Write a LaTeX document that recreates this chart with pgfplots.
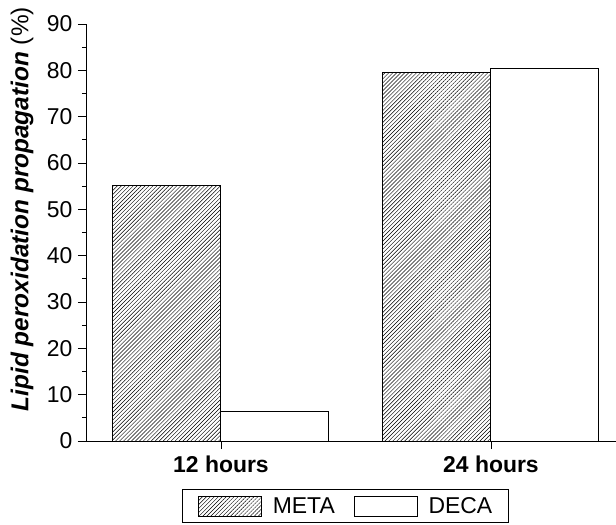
\documentclass[border=0pt]{standalone}
\usepackage{fontspec}
\setmainfont{Liberation Sans}
\usepackage{pgfplots}
\pgfplotsset{compat=1.18}
\usetikzlibrary{patterns.meta}
\begin{document}
\begin{tikzpicture}
\useasboundingbox (-86bp,-84bp) rectangle (530bp,441bp);
\begin{axis}[
  scale only axis,
  width=530bp, height=417bp,
  xmin=0.5, xmax=2.463,
  ymin=0, ymax=90,
  axis x line*=bottom,
  axis y line*=left,
  x axis line style={shorten <=-8bp},
  ytick={0,10,...,90},
  minor ytick={5,15,...,85},
  xtick={1,2},
  xticklabels={\textbf{12 hours},\textbf{24 hours}},
  tick align=outside,
  major tick length=8bp,
  minor tick length=4bp,
  tick style={black, line width=0.8bp},
  axis line style={black, line width=0.8bp},
  /pgf/number format/assume math mode=true,
  tick label style={font=\fontsize{23}{27}\selectfont},
  yticklabel style={xshift=-2bp},
  xticklabel style={yshift=-3bp},
  every axis y label/.style={at={(axis description cs:-0.1208,0.556)},anchor=center,rotate=90},
  ylabel={\fontsize{24.5}{28}\selectfont\textbf{\textit{Lipid peroxidation propagation}} (\%)},
  ybar=0pt,
  bar width=0.4,
  legend columns=2,
  legend style={at={(axis description cs:0.489,-0.1151)}, anchor=north, draw=black, line width=0.6bp,
    font=\fontsize{23}{27}\selectfont, inner xsep=16bp, inner ysep=6bp,
    nodes={inner xsep=0bp, inner ysep=2bp},
    /tikz/every odd column/.append style={column sep=11bp},
    /tikz/every even column/.append style={column sep=19bp}},
  legend image code/.code={\draw[#1, line width=0.8bp] (0bp,-10bp) rectangle (63bp,10bp);},
]
\addplot[draw=black, line width=1bp, pattern={Lines[angle=45,distance=2.8bp,line width=0.45bp]}] coordinates {(1,55.1) (2,79.5)};
\addplot[draw=black, line width=1bp, fill=white] coordinates {(1,6.4) (2,80.4)};
\legend{META,DECA\hspace{14bp}}
\end{axis}
\end{tikzpicture}
\end{document}
